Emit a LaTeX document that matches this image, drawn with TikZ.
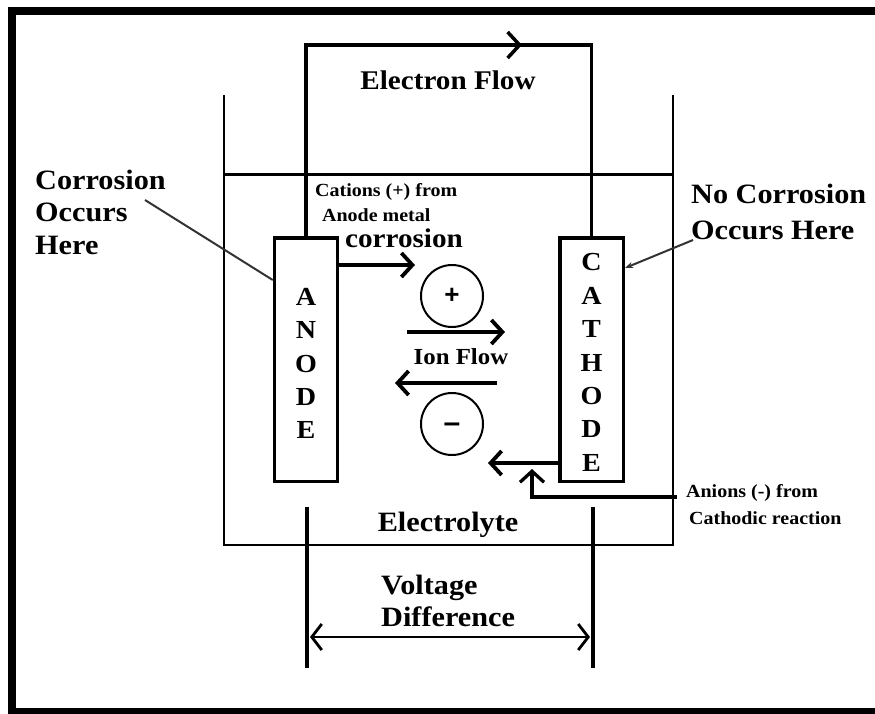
\documentclass[tikz,border=0pt]{standalone}
\usepackage{fontspec}
\setmainfont{Liberation Serif}[FakeStretch=1.08]
\newfontfamily\signfont{Liberation Sans}
\usetikzlibrary{arrows.meta}
\begin{document}
\begin{tikzpicture}[x=1pt,y=-1pt,
  wire/.style={line width=3.5pt},
  beaker/.style={line width=1.8pt},
  pointer/.style={line width=2pt, draw=black!80},
  electrode/.style={draw, line width=3.5pt, minimum width=63pt, minimum height=243.5pt, inner sep=0pt},
  letters/.style={inner sep=0pt, align=center, font=\fontsize{26}{33.4}\selectfont\bfseries},
  lbl/.style={inner sep=0pt, align=left, font=\fontsize{28}{32.5}\selectfont\bfseries},
  small/.style={inner sep=0pt, align=left, font=\fontsize{18.5}{25}\selectfont\bfseries},
  arr/.style={line width=3.8pt, -{Straight Barb[length=11pt,width=24pt]}},
  ion/.style={draw, circle, line width=2pt, minimum size=62pt, inner sep=0pt, font=\fontsize{28}{28}\signfont\bfseries}
]
\useasboundingbox (0,0) rectangle (875,713);
\clip (0,0) rectangle (875,713);
% outer frame
\draw[line width=8pt] (900,11) -- (12,11) -- (12,712) -- (900,712);
% beaker
\coordinate (btl) at (224,95);
\coordinate (btr) at (673,95);
\coordinate (bbl) at (224,545);
\coordinate (bbr) at (673,545);
\draw[beaker] (btl) -- (bbl) -- (bbr) -- (btr);
\coordinate (wl) at (224,174);
\coordinate (wr) at (673,174);
\draw[line width=3pt] (wl) -- (wr);
% electrodes
\node[electrode] (anode) at (306,359.5) {};
\node[electrode, minimum width=63.5pt] (cathode) at (591.5,359.5) {};
\node[letters] (anodetxt) at ([yshift=-4pt]anode.center) {A\\N\\O\\D\\E};
\node[letters] (cathodetxt) at ([yshift=-3pt]cathode.center) {C\\A\\T\\H\\O\\D\\E};
% electron wire
\coordinate (etop) at (450,45);
\coordinate (etip) at (522,45);
\draw[wire] (anode.north) |- (etop) -| (cathode.north);
\draw[wire, -{Straight Barb[length=12pt,width=26pt]}] (etop) -- (etip);
\node[lbl, font=\fontsize{27}{30}\selectfont\bfseries] (eflow) at (448,80) {Electron Flow};
% side labels
\node[lbl, anchor=west] (corr) at (35,212) {Corrosion\\Occurs\\Here};
\coordinate (corrp) at (145,200);
\draw[pointer] (corrp) -- ([yshift=-44pt]anode.north west);
\node[lbl, anchor=west, font=\fontsize{28}{36}\selectfont\bfseries] (nocorr) at (691,212) {No Corrosion\\Occurs Here};
\coordinate (ncp) at (693,240);
\draw[pointer, -{Stealth[length=8pt,width=6pt]}] (ncp) -- ([yshift=-32pt]cathode.north east);
% cations text
\node[small, anchor=west] (cat1) at (315,192) {Cations (+) from};
\node[small, anchor=west] (cat2) at (322,215) {Anode metal};
\node[lbl, font=\fontsize{27}{30}\selectfont\bfseries] (corrtxt) at (404,238) {corrosion};
% ion arrows and circles
\coordinate (a1) at (415,265);
\draw[arr] (anode.east |- a1) -- (a1);
\node[ion, font=\fontsize{26}{26}\signfont\bfseries] (plus) at (452,296) {+};
\coordinate (r1) at (407,332);
\coordinate (r2) at (505,332);
\draw[arr] (r1) -- (r2);
\node[lbl, font=\fontsize{23}{26}\selectfont\bfseries] (ionflow) at (461,357) {Ion Flow};
\coordinate (l1) at (497,383);
\coordinate (l2) at (395,383);
\draw[arr] (l1) -- (l2);
\node[ion, font=\fontsize{30}{30}\signfont\bfseries, text height=16pt, text depth=0pt] (minus) at (452,424) {–};
\coordinate (c1) at (488,463);
\draw[arr] (cathode.west |- c1) -- (c1);
\coordinate (anp) at (677,497);
\coordinate (anup) at (532,469);
\draw[arr, line width=3.3pt] (anp) -| (anup);
\node[small, anchor=west] (an1) at (686,493) {Anions (-) from};
\node[small, anchor=west] (an2) at (689,518) {Cathodic reaction};
% electrolyte
\node[lbl] (elec) at (448,525) {Electrolyte};
% voltage difference
\coordinate (vl1) at (307,507);
\coordinate (vl2) at (307,668);
\coordinate (vr1) at (593,507);
\coordinate (vr2) at (593,668);
\draw[wire] (vl1) -- (vl2);
\draw[wire] (vr1) -- (vr2);
\coordinate (va) at (310,637);
\coordinate (vb) at (590,637);
\draw[line width=2.8pt, {Straight Barb[length=10pt,width=26pt]}-{Straight Barb[length=10pt,width=26pt]}] (va) -- (vb);
\node[lbl, anchor=west] (volt) at (381,601) {Voltage\\Difference};
\end{tikzpicture}
\end{document}
